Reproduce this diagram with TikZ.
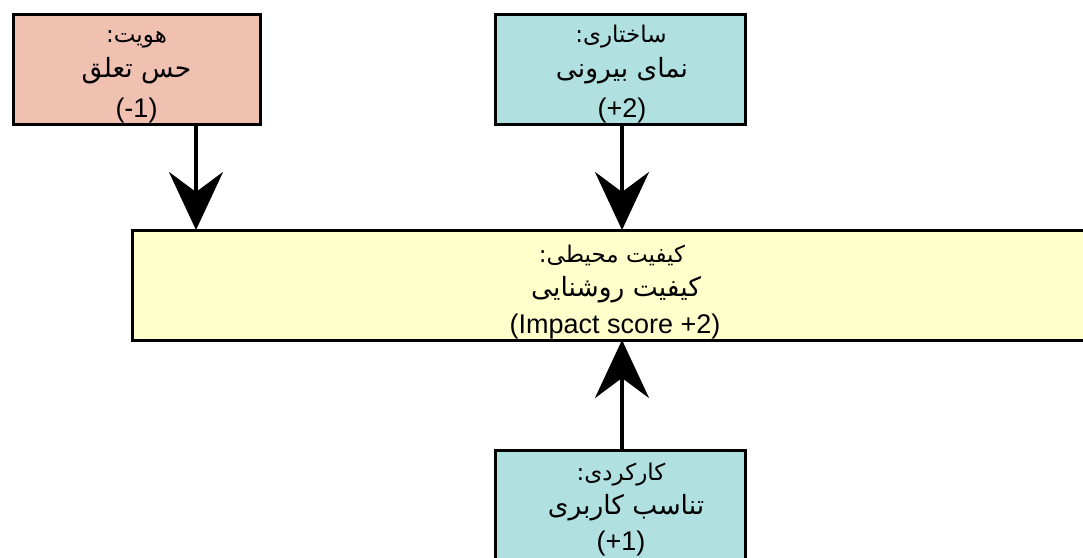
\documentclass[tikz,border=0pt]{standalone}
\usepackage{fontspec}
\setmainfont{Liberation Sans}
\newfontfamily\arabicfont[Script=Arabic]{DejaVu Sans}
\TeXXeTstate=1
\usetikzlibrary{arrows.meta}
\definecolor{boxsalmon}{HTML}{F0C0B1}
\definecolor{boxteal}{HTML}{B0E0E0}
\definecolor{boxcream}{HTML}{FFFFCC}
\begin{document}
\begin{tikzpicture}[x=1pt,y=1pt,
  box/.style={draw=black, line width=3pt, inner sep=0pt, outer sep=0pt},
  ln/.style={anchor=base, inner sep=0pt, outer sep=0pt},
  arhead/.style={ln, font=\arabicfont\fontsize{23}{26}\selectfont},
  arbody/.style={ln, font=\arabicfont\fontsize{26.5}{30}\selectfont},
  latin/.style={ln, font=\fontsize{27}{30}\selectfont},
  arr/.style={line width=4pt, -{Stealth[length=58pt,width=54pt,inset=20pt]}}]
\useasboundingbox (0,0) rectangle (1083,-557);
\clip (0,0) rectangle (1083,-557);
% boxes
\node[box, fill=boxsalmon, minimum width=247pt, minimum height=110pt] (ident) at (136.5,-69.5) {};
\node[box, fill=boxteal, minimum width=250pt, minimum height=110pt] (struct) at (620.5,-69.5) {};
\node[box, fill=boxcream, minimum width=968pt, minimum height=110pt] (env) at (616.5,-285) {};
\node[box, fill=boxteal, minimum width=250pt, minimum height=150pt] (func) at (620.5,-525.5) {};
% texts
\node[arhead] (identA) at (136.5,-42) {\beginR هویت:\endR};
\node[arbody] (identB) at (136.5,-77) {\beginR حس تعلق\endR};
\node[latin]  (identC) at (136.5,-117) {(-1)};
\node[arhead] (structA) at (621,-42) {\beginR ساختاری:\endR};
\node[arbody] (structB) at (622,-77) {\beginR نمای بیرونی\endR};
\node[latin]  (structC) at (622,-117) {(+2)};
\node[arhead] (envA) at (612,-262) {\beginR کیفیت محیطی:\endR};
\node[arbody] (envB) at (616,-296) {\beginR کیفیت روشنایی\endR};
\node[latin]  (envC) at (615,-333) {(Impact score +2)};
\node[arhead] (funcA) at (621,-480) {\beginR کارکردی:\endR};
\node[arbody] (funcB) at (626,-514) {\beginR تناسب کاربری\endR};
\node[latin]  (funcC) at (621,-550) {(+1)};
% arrows
\draw[arr] (ident.south -| 196,0) -- (env.north -| 196,0);
\draw[arr] (struct.south -| 622,0) -- (env.north -| 622,0);
\draw[arr] (func.north -| 622,0) -- (env.south -| 622,0);
\end{tikzpicture}
\end{document}
